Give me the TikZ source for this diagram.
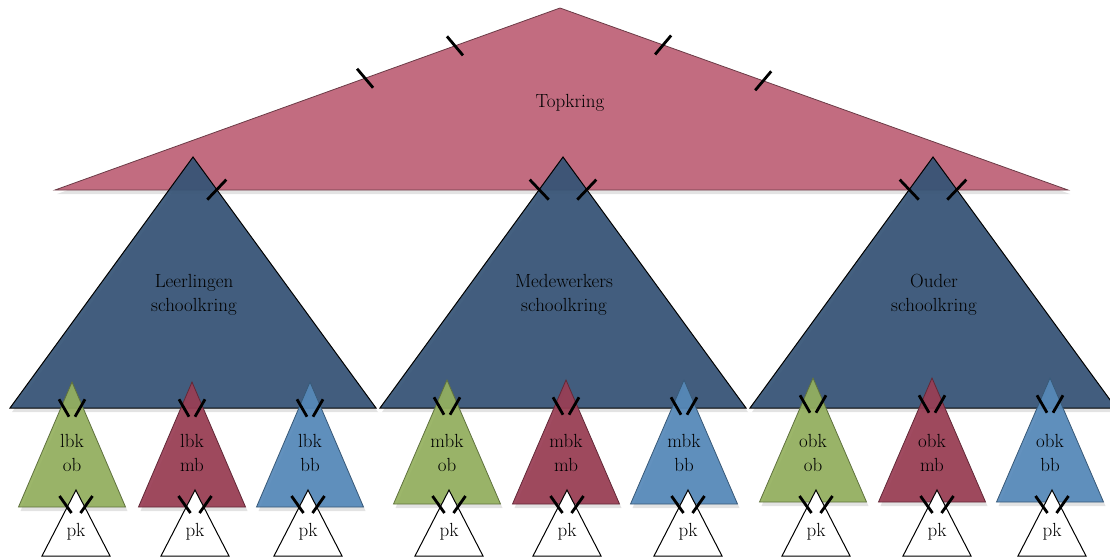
\documentclass[tikz,border=0pt]{standalone}
\usetikzlibrary{calc,shadows}
\definecolor{topc}{RGB}{194,108,128}
\definecolor{bigc}{RGB}{54,84,118}
\definecolor{gc}{RGB}{148,176,95}
\definecolor{rc}{RGB}{153,61,84}
\definecolor{bc}{RGB}{86,137,185}
% tick mark: centre point, half-vector (dx,dy)
\newcommand\tkmark[3]{%
  \draw[tickmark] ($#1+(#2,#3)$) -- ($#1-(#2,#3)$);}
\begin{document}
\begin{tikzpicture}[x=1pt,y=-1pt,
  shad/.style={drop shadow={opacity=0.22,shadow xshift=2pt,shadow yshift=-4pt}},
  toptri/.style={fill=topc,draw=topc!55!black,line width=0.8pt,shad},
  bigtri/.style={fill=bigc,fill opacity=0.93,draw=black,line width=1pt,shad},
  smalltri/.style={line width=0.8pt,fill opacity=0.93,shad},
  pktri/.style={fill=white,draw=black,line width=1pt},
  tickmark/.style={line width=2.8pt,black},
  lbl/.style={font=\fontsize{19}{23.5}\selectfont,align=center,inner sep=0pt,text=black,text opacity=1}]
\useasboundingbox (0,0) rectangle (1110,557);
% top triangle
\coordinate (top-t) at (560,8);
\coordinate (top-l) at (55,190);
\coordinate (top-r) at (1068,190);
\path[toptri] (top-t) -- (top-l) -- (top-r) -- cycle;
\node[lbl] (toplbl) at (570,103) {Topkring};
% big triangles
\foreach \cx/\nm/\la/\lb in {193/L/Leerlingen/schoolkring,563/M/Medewerkers/schoolkring,933/R/Ouder/schoolkring}{
  \coordinate (\nm-t) at (\cx,157);
  \coordinate (\nm-l) at (\cx-183,408);
  \coordinate (\nm-r) at (\cx+183,408);
  \path[bigtri] (\nm-t) -- (\nm-l) -- (\nm-r) -- cycle;
  \node[lbl] (\nm-lbl) at (\cx+1,295) {\la\\\lb};
}
% small triangles
\foreach \cx/\ay/\by/\col/\la/\lb/\nm in {
  72/382/507/gc/lbk/ob/s1,192/382/507/rc/lbk/mb/s2,310/382/507/bc/lbk/bb/s3,
  447/380/504/gc/mbk/ob/s4,566/380/504/rc/mbk/mb/s5,684/380/504/bc/mbk/bb/s6,
  813/378/502/gc/obk/ob/s7,932/378/502/rc/obk/mb/s8,1050/378/502/bc/obk/bb/s9}{
  \coordinate (\nm-t) at (\cx,\ay);
  \coordinate (\nm-l) at (\cx-53.5,\by);
  \coordinate (\nm-r) at (\cx+53.5,\by);
  \path[smalltri,fill=\col,draw=\col!65!black] (\nm-t) -- (\nm-l) -- (\nm-r) -- cycle;
  \node[lbl] (\nm-lbl) at (\cx,453) {\la\\\lb};
  \tkmark{($(\nm-t)+(-8,26)$)}{5}{8.7}
  \tkmark{($(\nm-t)+(8,26)$)}{-5}{8.7}
}
% pk triangles
\foreach \cx/\nm in {76/p1,195/p2,308/p3,449/p4,567/p5,688/p6,816/p7,937/p8,1052/p9}{
  \coordinate (\nm-t) at (\cx,490);
  \coordinate (\nm-l) at (\cx-34,556);
  \coordinate (\nm-r) at (\cx+34,556);
  \path[pktri] (\nm-t) -- (\nm-l) -- (\nm-r) -- cycle;
  \node[lbl] (\nm-lbl) at (\cx,532) {pk};
  \tkmark{($(\nm-t)+(-10.5,14.5)$)}{6}{8.5}
  \tkmark{($(\nm-t)+(10.5,14.5)$)}{-6}{8.5}
}
% ticks on top triangle
\tkmark{($(top-l)!0.614!(top-t)$)}{8}{9.5}
\tkmark{($(top-l)!0.792!(top-t)$)}{8}{9.5}
\tkmark{($(top-t)!0.203!(top-r)$)}{-8}{9.5}
\tkmark{($(top-t)!0.40!(top-r)$)}{-8}{9.5}
% ticks on big triangles
\tkmark{($(L-t)!0.13!(L-r)$)}{-9.5}{10}
\tkmark{($(M-t)!0.13!(M-l)$)}{9.5}{10}
\tkmark{($(M-t)!0.13!(M-r)$)}{-9.5}{10}
\tkmark{($(R-t)!0.13!(R-l)$)}{9.5}{10}
\tkmark{($(R-t)!0.13!(R-r)$)}{-9.5}{10}
\end{tikzpicture}
\end{document}
